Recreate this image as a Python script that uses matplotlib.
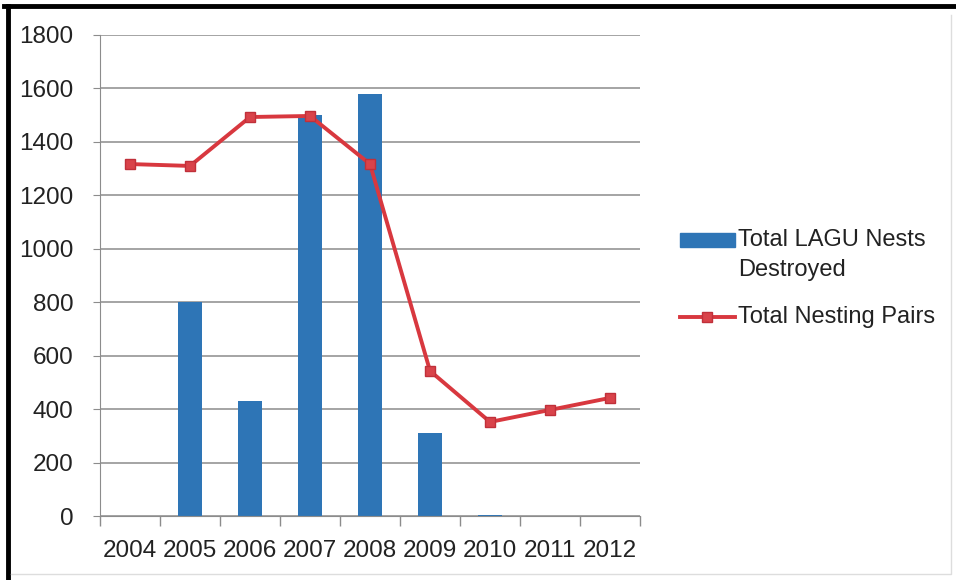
import numpy as np
import matplotlib.pyplot as plt
from matplotlib.lines import Line2D
from matplotlib.patches import Rectangle

plt.rcParams['font.family'] = ['Liberation Sans', 'DejaVu Sans']

# data
years = ['2004', '2005', '2006', '2007', '2008', '2009', '2010', '2011', '2012']
nests_destroyed = [0, 800, 430, 1500, 1580, 310, 5, 0, 0]
nesting_pairs = [1317, 1310, 1493, 1497, 1317, 543, 352, 397, 442]

bar_color = '#2E75B6'
line_color = '#D8383F'
grid_color = '#8C8C8C'
text_color = '#222222'

W, H = 956, 580
fig = plt.figure(figsize=(W / 100, H / 100), dpi=100)
ax = fig.add_axes([0.1046, 0.1103, 0.5649, 0.8294])

x = np.arange(len(years))
ax.bar(x, nests_destroyed, width=0.39, color=bar_color, zorder=2)
ax.plot(x, nesting_pairs, color=line_color, lw=2.8, marker='s', ms=7.5,
        markerfacecolor='#D9434A', markeredgecolor='#C0303A', zorder=3)

ax.set_xlim(-0.5, len(years) - 0.5)
ax.set_ylim(0, 1800)
ax.set_yticks(range(0, 1801, 200))
ax.yaxis.grid(True, color=grid_color, lw=1.1, zorder=0)
ax.set_axisbelow(True)

# category labels centred, ticks on the boundaries
ax.set_xticks(x)
ax.set_xticklabels(years)
ax.set_xticks(np.arange(-0.5, len(years)), minor=True)
ax.tick_params(axis='x', which='major', length=0, pad=17, labelsize=17.5,
               labelcolor=text_color)
ax.tick_params(axis='x', which='minor', length=7, color=grid_color, width=1)
ax.tick_params(axis='y', length=5, color=grid_color, labelsize=17.5, pad=14,
               labelcolor=text_color)

for side in ['top', 'right']:
    ax.spines[side].set_visible(False)
ax.spines['left'].set_color(grid_color)
ax.spines['bottom'].set_color(grid_color)


def fx(px):
    return px / W


def fy(py):
    return 1 - py / H


# legend, drawn by hand so the swatch sits on the first text line
fig.add_artist(Rectangle((fx(680), fy(247)), fx(735) - fx(680), 14 / H,
                         color=bar_color, transform=fig.transFigure))
fig.text(fx(738), fy(240), 'Total LAGU Nests', fontsize=17, va='center',
         color=text_color)
fig.text(fx(738), fy(270), 'Destroyed', fontsize=17, va='center',
         color=text_color)
fig.add_artist(Line2D([fx(680), fx(735)], [fy(317), fy(317)], color=line_color,
                      lw=2.8, transform=fig.transFigure))
fig.add_artist(Line2D([fx(707)], [fy(317)], marker='s', ms=7.5,
                      markerfacecolor='#D9434A', markeredgecolor='#C0303A',
                      transform=fig.transFigure))
fig.text(fx(738), fy(317), 'Total Nesting Pairs', fontsize=17, va='center',
         color=text_color)

# outer frame of the screenshot
fig.add_artist(Line2D([0.004, 1.0], [0.990, 0.990], color='black', lw=3.5,
                      transform=fig.transFigure))
fig.add_artist(Line2D([0.008, 0.008], [0.0, 0.990], color='black', lw=3.5,
                      transform=fig.transFigure))
fig.add_artist(Line2D([0.012, 0.995, 0.995], [0.01, 0.01, 0.975], color='#DDDDDD',
                      lw=1, transform=fig.transFigure))

fig.savefig('out.png', dpi=100)
